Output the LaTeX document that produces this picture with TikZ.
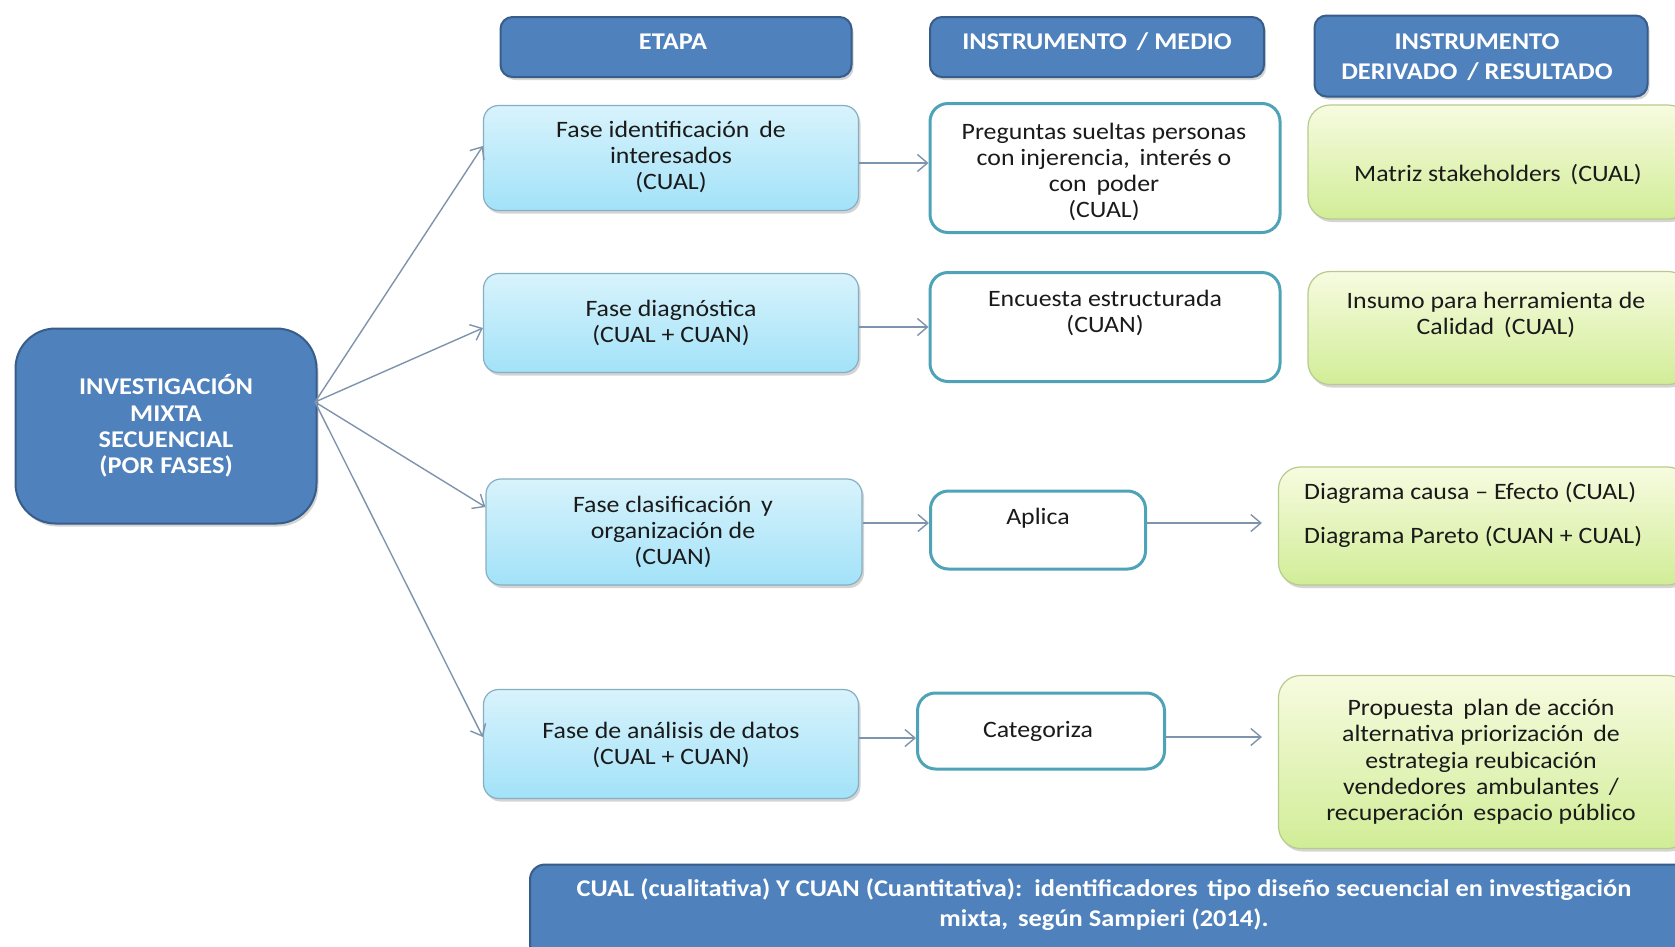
\documentclass[tikz,border=0pt]{standalone}
\usepackage{fontspec}
\setmainfont{Carlito}[FakeStretch=1.1]
\usetikzlibrary{arrows.meta,shadows,calc}
\definecolor{hdrblue}{HTML}{4F81BD}
\definecolor{hdredge}{HTML}{385D8A}
\definecolor{phtop}{HTML}{D8F3FC}
\definecolor{phbot}{HTML}{A2E2F8}
\definecolor{phedge}{HTML}{86AFC4}
\definecolor{inedge}{HTML}{4FA3B6}
\definecolor{grtop}{HTML}{F7FBE0}
\definecolor{grbot}{HTML}{D1ED97}
\definecolor{gredge}{HTML}{B9CA8E}
\definecolor{arrowc}{HTML}{7E94AC}
\definecolor{txt}{HTML}{1A1A1A}
\tikzset{
  shd/.style={drop shadow={shadow xshift=2pt,shadow yshift=-3pt,opacity=0.28,fill=black!60}},
  hdr/.style={shd,draw=hdredge,line width=2pt,fill=hdrblue,rounded corners=12pt,inner sep=0pt},
  phase/.style={shd,draw=phedge,line width=1.2pt,top color=phtop,bottom color=phbot,
    rounded corners=15pt,inner sep=0pt},
  instr/.style={draw=inedge,line width=3pt,fill=white,rounded corners=18pt,inner sep=0pt},
  result/.style={shd,draw=gredge,line width=1.2pt,top color=grtop,bottom color=grbot,
    rounded corners=22pt,inner sep=0pt},
  wlbl/.style={text=white,font=\fontsize{24}{30}\selectfont\bfseries,align=center,inner sep=0pt},
  lbl/.style={text=txt,font=\fontsize{23.5}{26.3}\selectfont,align=center,inner sep=0pt},
  conn/.style={draw=arrowc,line width=1.4pt,-{Straight Barb[length=10pt,width=17pt,line width=1.4pt]}},
}
\begin{document}
\begin{tikzpicture}[x=1pt,y=-1pt]
\useasboundingbox (0,0) rectangle (1675,946);
\clip (0,0) rectangle (1675,946);
\fill[white] (0,0) rectangle (1675,946);

% headers
\node[hdr,minimum width=351pt,minimum height=60pt] (hE) at (676,47) {};
\node[wlbl] (hEt) at (673,42) {ETAPA};
\node[hdr,minimum width=334pt,minimum height=60pt] (hM) at (1097,47) {};
\node[wlbl] (hMt) at (1097,42) {INSTRUMENTO \,/ MEDIO};
\node[hdr,minimum width=333pt,minimum height=81pt] (hR) at (1481,56) {};
\node[wlbl] (hRt) at (1477,57) {INSTRUMENTO\\DERIVADO \,/ RESULTADO};

% main box
\node[hdr,rounded corners=40pt,minimum width=301pt,minimum height=195pt] (L) at (166,426) {};
\node[wlbl,font=\fontsize{24}{26.4}\selectfont\bfseries] (Lt) at (166,426)
  {INVESTIGACIÓN\\MIXTA\\SECUENCIAL\\(POR FASES)};
\coordinate (fan) at (315,402);

% phases
\node[phase,minimum width=375pt,minimum height=105pt] (F1) at (671,158) {};
\node[lbl] (F1t) at (671,157) {Fase identificación \,de\\interesados\\(CUAL)};
\node[phase,minimum width=375pt,minimum height=99pt] (F2) at (671,323) {};
\node[lbl] (F2t) at (671,323) {Fase diagnóstica\\(CUAL + CUAN)};
\node[phase,minimum width=376pt,minimum height=106pt] (F3) at (674,532) {};
\node[lbl] (F3t) at (673,532) {Fase clasificación \,y\\organización de\\(CUAN)};
\node[phase,minimum width=375pt,minimum height=109pt] (F4) at (671,744) {};
\node[lbl] (F4t) at (671,745) {Fase de análisis de datos\\(CUAL + CUAN)};

% instruments
\node[instr,minimum width=350pt,minimum height=129pt] (I1) at (1105,168) {};
\node[lbl] (I1t) at (1104,172) {Preguntas sueltas personas\\con injerencia, \,interés o\\con \,poder\\(CUAL)};
\node[instr,minimum width=350pt,minimum height=109pt] (I2) at (1105,327) {};
\node[lbl] (I2t) at (1105,313) {Encuesta estructurada\\(CUAN)};
\node[instr,minimum width=215pt,minimum height=78pt] (I3) at (1038,530) {};
\node[lbl] (I3t) at (1038,518) {Aplica};
\node[instr,minimum width=247pt,minimum height=76pt] (I4) at (1041,731) {};
\node[lbl] (I4t) at (1038,731) {Categoriza};

% results
\node[result,minimum width=382pt,minimum height=114pt] (R1) at (1499,162) {};
\node[lbl] (R1t) at (1498,175) {Matriz stakeholders \,(CUAL)};
\node[result,minimum width=382pt,minimum height=113pt] (R2) at (1499,328) {};
\node[lbl] (R2t) at (1496,315) {Insumo para herramienta de\\Calidad \,(CUAL)};
\node[result,minimum width=411pt,minimum height=118pt] (R3) at (1484,526) {};
\node[lbl,align=left,anchor=west] (R3t) at (1304,515)
  {Diagrama causa -- Efecto (CUAL)\\[17pt]Diagrama Pareto (CUAN + CUAL)};
\node[result,minimum width=411pt,minimum height=173pt] (R4) at (1484,762) {};
\node[lbl] (R4t) at (1481,762)
  {Propuesta \,plan de acción\\alternativa priorización \,de\\estrategia reubicación\\vendedores \,ambulantes \,/\\recuperación \,espacio público};

% bottom note
\node[hdr,rounded corners=15pt,minimum width=1160pt,minimum height=95pt] (B) at (1110,912) {};
\node[wlbl] (Bt) at (1104,905)
  {CUAL (cualitativa) Y CUAN (Cuantitativa): \,identificadores \,tipo diseño secuencial en investigación\\mixta, \,según Sampieri (2014).};

% connectors
\draw[conn] (fan) -- ($(F1.west)+(0,-12)$);
\draw[conn] (fan) -- ($(F2.west)+(0,5)$);
\draw[conn] (fan) -- ($(F3.west)+(0,-25)$);
\draw[conn] (fan) -- ($(F4.west)+(0,-7)$);

\draw[conn] ($(F1.east)+(0,5)$) -- ($(F1.east -| I1.west)+(0,5)$);
\draw[conn] ($(F2.east)+(0,4)$) -- ($(F2.east -| I2.west)+(0,4)$);
\draw[conn] ($(F3.east)+(0,-9)$) -- ($(F3.east -| I3.west)+(0,-9)$);
\draw[conn] ($(F4.east)+(0,-6)$) -- ($(F4.east -| I4.west)+(0,-6)$);
\draw[conn] ($(I3.east)+(0,-7)$) -- ($(I3.east -| R3.west)+(-16,-7)$);
\draw[conn] ($(I4.east)+(0,6)$) -- ($(I4.east -| R4.west)+(-16,6)$);
\end{tikzpicture}
\end{document}
